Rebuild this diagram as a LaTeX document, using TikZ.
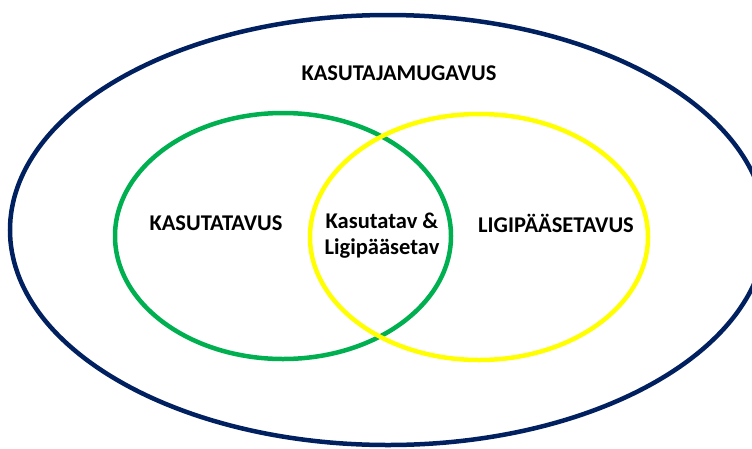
\documentclass[tikz,border=0pt]{standalone}
\usepackage{fontspec}
\setmainfont{Carlito}
\definecolor{navyline}{HTML}{002060}
\definecolor{greenline}{HTML}{00B050}
\definecolor{yellowline}{HTML}{FFFF00}
\begin{document}
\begin{tikzpicture}[x=1pt, y=-1pt,
    ring/.style={line width=4.5pt},
    setlabel/.style={font=\bfseries\fontsize{22.5}{26}\selectfont, align=center}]
    \useasboundingbox (0,0) rectangle (752,448);

    % kasutajamugavus
    \draw[ring, navyline] (388,230) ellipse (378pt and 215pt);
    \node[setlabel] (mugavus) at (399,73) {KASUTAJAMUGAVUS};

    % kasutatavus ja ligipääsetavus
    \draw[ring, greenline] (283,236) ellipse (168pt and 123pt);
    \draw[ring, yellowline] (479,237) ellipse (169pt and 123pt);

    % sildid
    \node[setlabel] (kasutatavus) at (216,223) {KASUTATAVUS};
    \node[setlabel] (ligipaas) at (556,223) {LIGIPÄÄSETAVUS};
    \node[setlabel] (uhine) at (382,236) {Kasutatav \&\\Ligipääsetav};
\end{tikzpicture}
\end{document}
